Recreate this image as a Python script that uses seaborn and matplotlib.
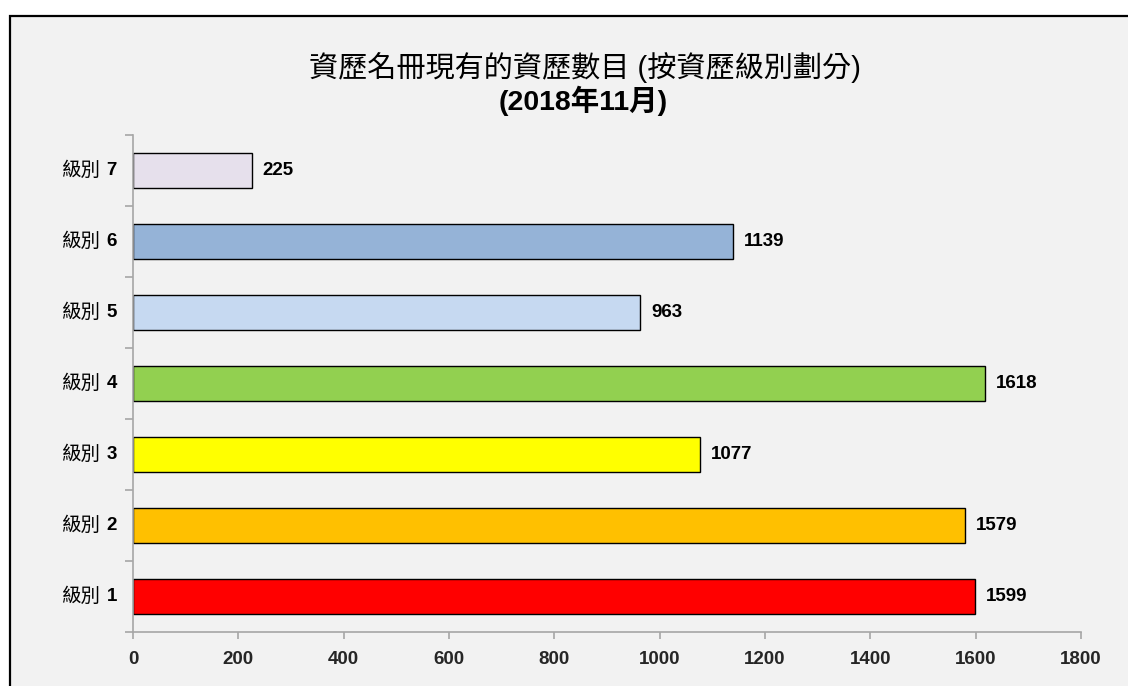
import matplotlib
matplotlib.use("Agg")
import matplotlib.pyplot as plt
import seaborn as sns
import pandas as pd
from matplotlib.patches import Rectangle
from matplotlib.ticker import FixedLocator

# ---- data ----
levels = ["級別 7", "級別 6", "級別 5", "級別 4", "級別 3", "級別 2", "級別 1"]
level_nums = ["7", "6", "5", "4", "3", "2", "1"]
counts = [225, 1139, 963, 1618, 1077, 1579, 1599]
colors = ["#e6e0ec", "#95b3d7", "#c6d9f1", "#92d050", "#ffff00", "#ffc000", "#ff0000"]
title_line1 = "資歷名冊現有的資歷數目 (按資歷級別劃分)"
title_line2 = "(2018年11月)"
xticks = [0, 200, 400, 600, 800, 1000, 1200, 1400, 1600, 1800]

df = pd.DataFrame({"level": levels, "count": counts})

sns.set_theme(style="white")
FAM = ["Liberation Sans", "Noto Sans CJK TC", "DejaVu Sans"]
plt.rcParams["font.family"] = FAM

fig = plt.figure(figsize=(11.28, 6.86), dpi=100, facecolor="white")
# chart area background with border (top & left visible)
bg = Rectangle((9.5 / 1128, -0.05), 1.2, 1 - 15.5 / 686 + 0.05,
               transform=fig.transFigure, facecolor="#f2f2f2",
               edgecolor="black", linewidth=1.6, zorder=-10)
fig.patches.append(bg)

ax = fig.add_axes([133 / 1128, 1 - 632 / 686, (1081 - 133) / 1128, (632 - 135) / 686])
ax.set_facecolor("#f2f2f2")
ax.set_zorder(1)

sns.barplot(data=df, x="count", y="level", hue="level", order=levels,
            hue_order=levels, palette=colors, legend=False, orient="h",
            width=0.5, edgecolor="black", linewidth=1.0, saturation=1, ax=ax)

ax.set_xlim(0, 1800)
ax.set_ylim(len(levels) - 0.5, -0.5)
ax.set_xlabel("")
ax.set_ylabel("")

for s in ["top", "right"]:
    ax.spines[s].set_visible(False)
for s in ["left", "bottom"]:
    ax.spines[s].set_color("#a6a6a6")
    ax.spines[s].set_linewidth(1.2)

ax.xaxis.set_major_locator(FixedLocator(xticks))
ax.set_xticklabels([str(t) for t in xticks])
ax.tick_params(axis="x", bottom=True, direction="out", length=5, width=1.2,
               color="#a6a6a6", pad=9, labelsize=13.5)
for lab in ax.get_xticklabels():
    lab.set_fontweight("bold")
    lab.set_family(FAM)

# y ticks at category boundaries, labels drawn separately
bounds = [i - 0.5 for i in range(len(levels) + 1)]
ax.yaxis.set_major_locator(FixedLocator(bounds))
ax.set_yticklabels([""] * len(bounds))
ax.tick_params(axis="y", left=True, direction="out", length=6, width=1.2,
               color="#a6a6a6")

ytr = ax.get_yaxis_transform()
for i, (lv, num) in enumerate(zip(levels, level_nums)):
    ax.annotate(num, xy=(0, i), xycoords=ytr, xytext=(-16, 0),
                textcoords="offset pixels", ha="right", va="center",
                fontsize=13.5, fontweight="bold", family=FAM, color="black")
    ax.annotate(lv.split(" ")[0], xy=(0, i), xycoords=ytr, xytext=(-32, 0),
                textcoords="offset pixels", ha="right", va="center",
                fontsize=14, family=["Noto Sans CJK TC"], color="black")

for cont in ax.containers:
    labels = ax.bar_label(cont, fmt="%d", padding=8, fontsize=13.5,
                          fontweight="bold", color="black")
    for t in labels:
        t.set_family(FAM)

fig.text(585 / 1128, 1 - 68 / 686, title_line1, ha="center", va="center",
         fontsize=21, family=FAM, color="black")
fig.text(583 / 1128, 1 - 101 / 686, title_line2, ha="center", va="center",
         fontsize=20.5, fontweight="bold", family=FAM, color="black")

fig.savefig("out.png", dpi=100, facecolor="white")
